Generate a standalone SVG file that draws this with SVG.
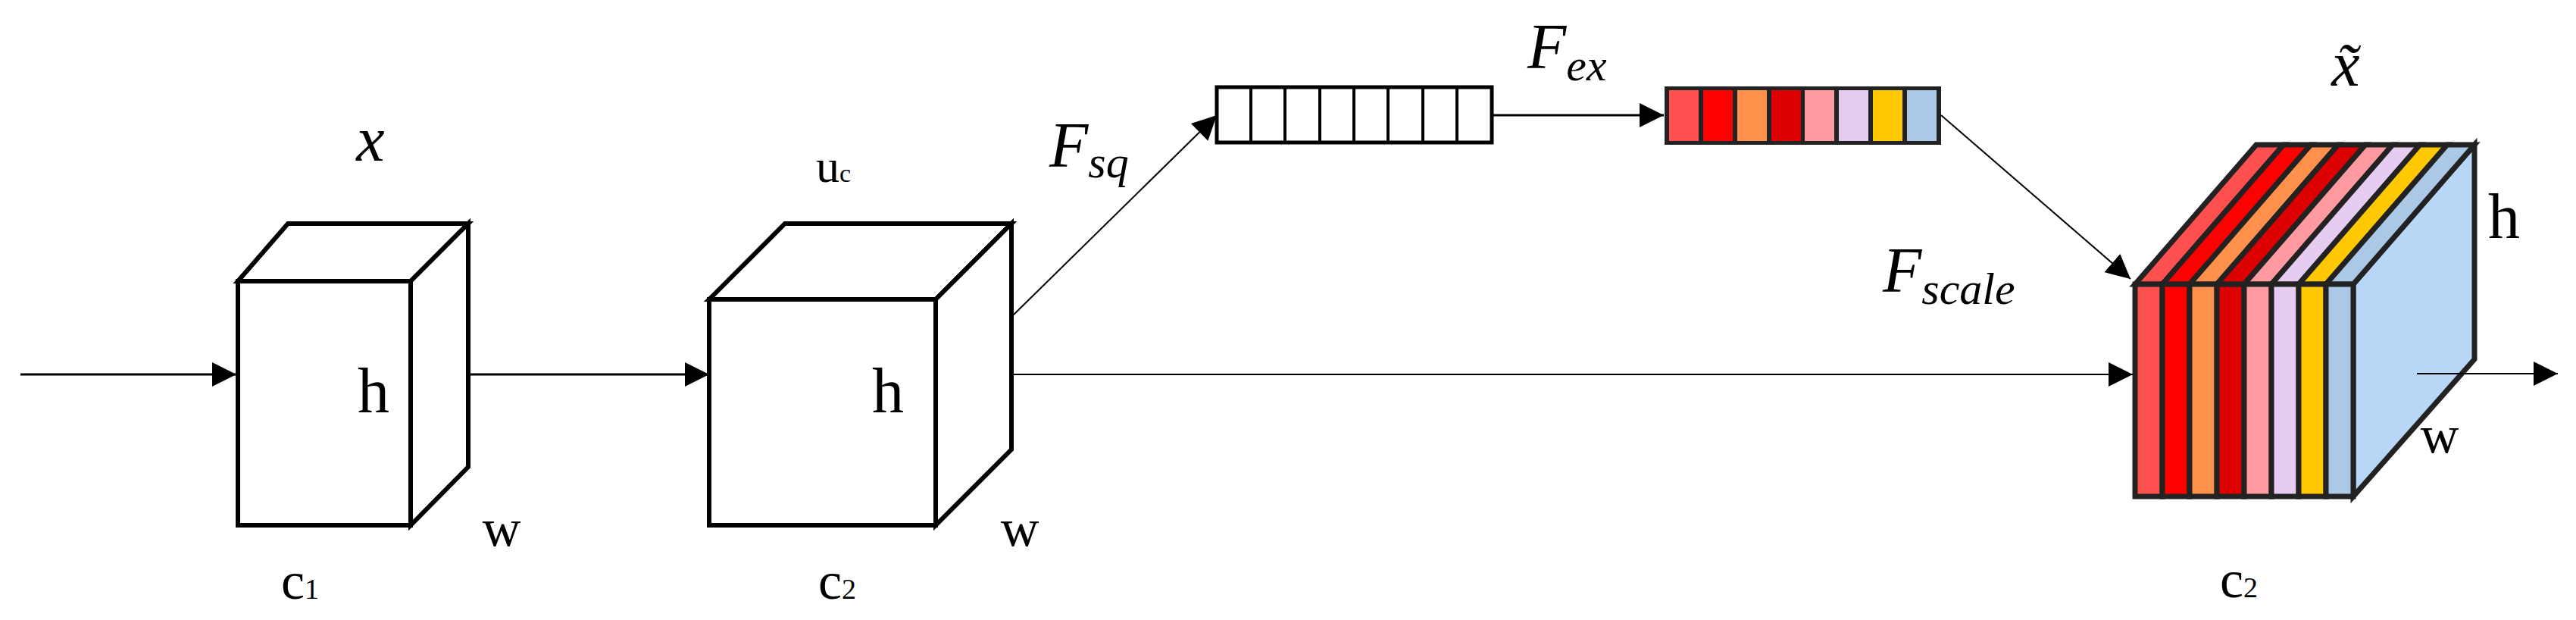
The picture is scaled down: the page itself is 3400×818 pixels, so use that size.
<svg xmlns="http://www.w3.org/2000/svg" width="3400" height="818" viewBox="0 0 3400 818">
<defs>
<marker id="ahb" viewBox="0 0 10 10" refX="10" refY="5" markerWidth="32" markerHeight="32" markerUnits="userSpaceOnUse" orient="auto"><path d="M0,0 L10,5 L0,10 z" fill="#000"/></marker>
<style>
.t{font-family:"Liberation Serif",serif;fill:#000}
.m{font-family:"Liberation Serif",serif;font-style:italic;fill:#000}
.cube{fill:#fff;stroke:#000;stroke-width:6;stroke-linejoin:miter}
.ln{stroke:#000;stroke-width:3;fill:none}
.thin{stroke:#000;stroke-width:2;fill:none}
.sl{stroke:#222;stroke-width:7;stroke-linejoin:miter}
</style>
</defs>
<g id="cube-x">
<path class="cube" d="M314,371 L380,295 L618,295 L542,371 Z"/>
<path class="cube" d="M542,371 L618,295 L618,616 L542,693 Z"/>
<rect class="cube" x="314" y="371" width="228" height="322"/>
<text class="m" x="489" y="212" font-size="84" text-anchor="middle">x</text>
<text class="t" x="493" y="544" font-size="84" text-anchor="middle">h</text>
<text class="t" x="662" y="720" font-size="70" text-anchor="middle">w</text>
<text class="t" x="396" y="790" font-size="70" text-anchor="middle">c<tspan font-size="38">1</tspan></text>
</g>
<g id="cube-u">
<path class="cube" d="M936,395 L1036,295 L1335,295 L1235,395 Z"/>
<path class="cube" d="M1235,395 L1335,295 L1335,593 L1235,693 Z"/>
<rect class="cube" x="936" y="395" width="299" height="298"/>
<text class="t" x="1100" y="240" font-size="62" text-anchor="middle">u<tspan font-size="34">c</tspan></text>
<text class="t" x="1172" y="544" font-size="84" text-anchor="middle">h</text>
<text class="t" x="1346" y="720" font-size="70" text-anchor="middle">w</text>
<text class="t" x="1105" y="790" font-size="70" text-anchor="middle">c<tspan font-size="38">2</tspan></text>
</g>
<g id="squeeze">
<rect x="1606" y="115" width="363" height="73" fill="#fff" stroke="#000" stroke-width="5"/>
<g stroke="#000" stroke-width="4">
<line x1="1651" y1="115" x2="1651" y2="188"/><line x1="1696" y1="115" x2="1696" y2="188"/>
<line x1="1742" y1="115" x2="1742" y2="188"/><line x1="1787" y1="115" x2="1787" y2="188"/>
<line x1="1832" y1="115" x2="1832" y2="188"/><line x1="1878" y1="115" x2="1878" y2="188"/>
<line x1="1923" y1="115" x2="1923" y2="188"/>
</g>
<text class="m" x="1385" y="220" font-size="84">F<tspan font-size="60" dy="14">sq</tspan></text>
</g>
<g id="excite">
<rect x="2197" y="114" width="365" height="77" fill="#222"/>
<rect x="2203" y="119" width="39" height="67" fill="#FF5050"/>
<rect x="2248" y="119" width="39" height="67" fill="#FF0000"/>
<rect x="2293" y="119" width="39" height="67" fill="#FF914D"/>
<rect x="2338" y="119" width="39" height="67" fill="#DD0000"/>
<rect x="2382" y="119" width="39" height="67" fill="#FF9AA0"/>
<rect x="2427" y="119" width="39" height="67" fill="#E6CCF0"/>
<rect x="2472" y="119" width="39" height="67" fill="#FFC800"/>
<rect x="2517" y="119" width="39" height="67" fill="#ABC8E6"/>
<text class="m" x="2016" y="90" font-size="84">F<tspan font-size="60" dy="16">ex</tspan></text>
<text class="m" x="2485" y="385" font-size="84">F<tspan font-size="60" dy="16">scale</tspan></text>
</g>
<g id="scaled">
<path class="sl" d="M3106,375 L3266,191 L3266,474 L3106,655 Z" fill="#B8D6F5"/>
<g class="sl">
<path d="M2818,375 L2978,191 L3014,191 L2854,375 Z" fill="#FF5050"/>
<path d="M2854,375 L3014,191 L3050,191 L2890,375 Z" fill="#FF0000"/>
<path d="M2890,375 L3050,191 L3086,191 L2926,375 Z" fill="#FF914D"/>
<path d="M2926,375 L3086,191 L3122,191 L2962,375 Z" fill="#DD0000"/>
<path d="M2962,375 L3122,191 L3158,191 L2998,375 Z" fill="#FF9AA0"/>
<path d="M2998,375 L3158,191 L3194,191 L3034,375 Z" fill="#E6CCF0"/>
<path d="M3034,375 L3194,191 L3230,191 L3070,375 Z" fill="#FFC800"/>
<path d="M3070,375 L3230,191 L3266,191 L3106,375 Z" fill="#ABC8E6"/>
<rect x="2818" y="375" width="36" height="280" fill="#FF5050"/>
<rect x="2854" y="375" width="36" height="280" fill="#FF0000"/>
<rect x="2890" y="375" width="36" height="280" fill="#FF914D"/>
<rect x="2926" y="375" width="36" height="280" fill="#DD0000"/>
<rect x="2962" y="375" width="36" height="280" fill="#FF9AA0"/>
<rect x="2998" y="375" width="36" height="280" fill="#E6CCF0"/>
<rect x="3034" y="375" width="36" height="280" fill="#FFC800"/>
<rect x="3070" y="375" width="36" height="280" fill="#ABC8E6"/>
</g>
<text class="m" x="3096" y="113" font-size="84" text-anchor="middle">x̃</text>
<text class="t" x="3305" y="314" font-size="84" text-anchor="middle">h</text>
<text class="t" x="3220" y="597" font-size="70" text-anchor="middle">w</text>
<text class="t" x="2955" y="788" font-size="70" text-anchor="middle">c<tspan font-size="38">2</tspan></text>
</g>
<g id="connectors">
<line class="ln" x1="27" y1="494" x2="312" y2="494" marker-end="url(#ahb)"/>
<line class="ln" x1="619" y1="494" x2="936" y2="494" marker-end="url(#ahb)"/>
<line class="thin" x1="1335" y1="494" x2="2815" y2="494" marker-end="url(#ahb)"/>
<line class="thin" x1="1335" y1="418" x2="1606" y2="152" marker-end="url(#ahb)"/>
<line class="ln" x1="1969" y1="152" x2="2196" y2="152" marker-end="url(#ahb)"/>
<line class="thin" x1="2562" y1="152" x2="2812" y2="368" marker-end="url(#ahb)"/>
<line class="thin" x1="3190" y1="493" x2="3376" y2="493" marker-end="url(#ahb)"/>
</g>
</svg>
